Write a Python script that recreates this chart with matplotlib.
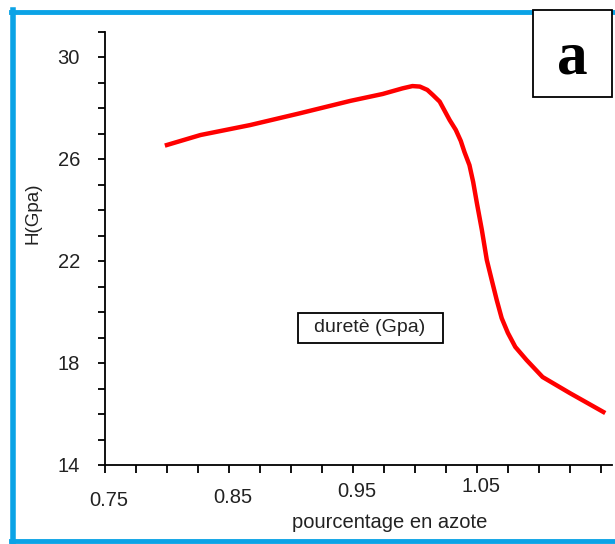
import matplotlib
matplotlib.use("Agg")
import matplotlib.pyplot as plt
from matplotlib.lines import Line2D
from matplotlib.patches import Rectangle
from matplotlib.ticker import MultipleLocator
from matplotlib.transforms import ScaledTranslation

# durete vs nitrogen content
azote = [0.800, 0.827, 0.867, 0.907, 0.948, 0.974, 0.990, 0.998, 1.004, 1.010,
         1.0145, 1.020, 1.028, 1.033, 1.037, 1.040, 1.044, 1.047, 1.050, 1.054,
         1.058, 1.062, 1.066, 1.070, 1.075, 1.081, 1.090, 1.103, 1.125, 1.152]
durete = [26.55, 26.94, 27.33, 27.79, 28.28, 28.55, 28.77, 28.86, 28.84, 28.71,
          28.51, 28.25, 27.53, 27.14, 26.71, 26.27, 25.76, 25.10, 24.27, 23.22,
          22.04, 21.25, 20.47, 19.76, 19.18, 18.63, 18.12, 17.45, 16.82, 16.08]

x_labels = ["0.75", "0.85", "0.95", "1.05"]
y_labels = ["14", "18", "22", "26", "30"]

plt.rcParams['font.family'] = ['Liberation Sans', 'DejaVu Sans']
txt = "#222222"

W, H = 615, 544
fig = plt.figure(figsize=(W / 100, H / 100), dpi=100)
ax = fig.add_axes([105 / W, 1 - 465 / H, 507 / W, (465 - 31.5) / H])

ax.plot(azote, durete, color="red", lw=3.2, solid_joinstyle='round')

ax.spines[['top', 'right']].set_visible(False)
for s in ['left', 'bottom']:
    ax.spines[s].set_linewidth(1.3)

ax.xaxis.set_major_locator(MultipleLocator(0.025))
ax.yaxis.set_major_locator(MultipleLocator(1))
ax.tick_params(axis='x', length=5.8, width=1.3, labelsize=14.5, labelcolor=txt)
ax.tick_params(axis='y', length=5, width=1.3, labelsize=14.5, labelcolor=txt, pad=13)

ax.set_xlim(0.75, 1.159)
ax.set_ylim(14, 31)
xt = [t for t in ax.get_xticks() if 0.7499 <= t <= 1.159]
ax.set_xticks(xt)
ax.set_xticklabels([x_labels[i // 4] if i % 4 == 0 and i // 4 < len(x_labels) else ""
                    for i in range(len(xt))])
yt = [t for t in ax.get_yticks() if 14 <= t <= 31]
ax.set_yticks(yt)
ax.set_yticklabels([str(int(round(v))) if str(int(round(v))) in y_labels else "" for v in yt])
ax.set_xlim(0.75, 1.159)
ax.set_ylim(14, 31)

# staggered labels
pads = [13, 10.5, 6.5, 3]
ticks = ax.xaxis.get_major_ticks()
for k, p in enumerate(pads):
    ticks[4 * k].set_pad(p)
shift = ScaledTranslation(4 / 100, 0, fig.dpi_scale_trans)
for lab in ax.get_xticklabels():
    lab.set_transform(lab.get_transform() + shift)

ax.set_xlabel("pourcentage en azote", fontsize=14.5, color=txt, va='center')
ax.xaxis.set_label_coords((390 - 105) / 507, -(522 - 465) / 433.5)
ax.set_ylabel("H(Gpa)", fontsize=13.5, color=txt, va='center', ha='center')
ax.yaxis.set_label_coords((33 - 105) / 507, (465 - 213) / 433.5)

# legend-like box
fig.text(370 / W, 1 - 328 / H, "duretè (Gpa)", ha='center', va='center', fontsize=14, color=txt)
fig.patches.append(Rectangle((298 / W, 1 - 343 / H), 145 / W, 30 / H, transform=fig.transFigure,
                             fill=False, edgecolor='black', lw=1.3))

# blue frame
blue = "#0ba3e6"
fig.lines.append(Line2D([13 / W, 13 / W], [1 - 10 / H, 1 - 542 / H], transform=fig.transFigure, color=blue, lw=4))
fig.lines.append(Line2D([11 / W, 1.0], [1 - 12 / H, 1 - 12 / H], transform=fig.transFigure, color=blue, lw=3.5))
fig.lines.append(Line2D([11 / W, 1.0], [1 - 541 / H, 1 - 541 / H], transform=fig.transFigure, color=blue, lw=3.5))

# panel letter
fig.patches.append(Rectangle((533 / W, 1 - 97 / H), 79 / W, 87 / H, transform=fig.transFigure,
                             facecolor='white', edgecolor='black', lw=1.3, zorder=5))
fig.text(572 / W, 1 - 58 / H, "a", ha='center', va='center', fontsize=44, fontweight='bold',
         family='Liberation Serif', zorder=6)

fig.savefig("out.png", dpi=100)
